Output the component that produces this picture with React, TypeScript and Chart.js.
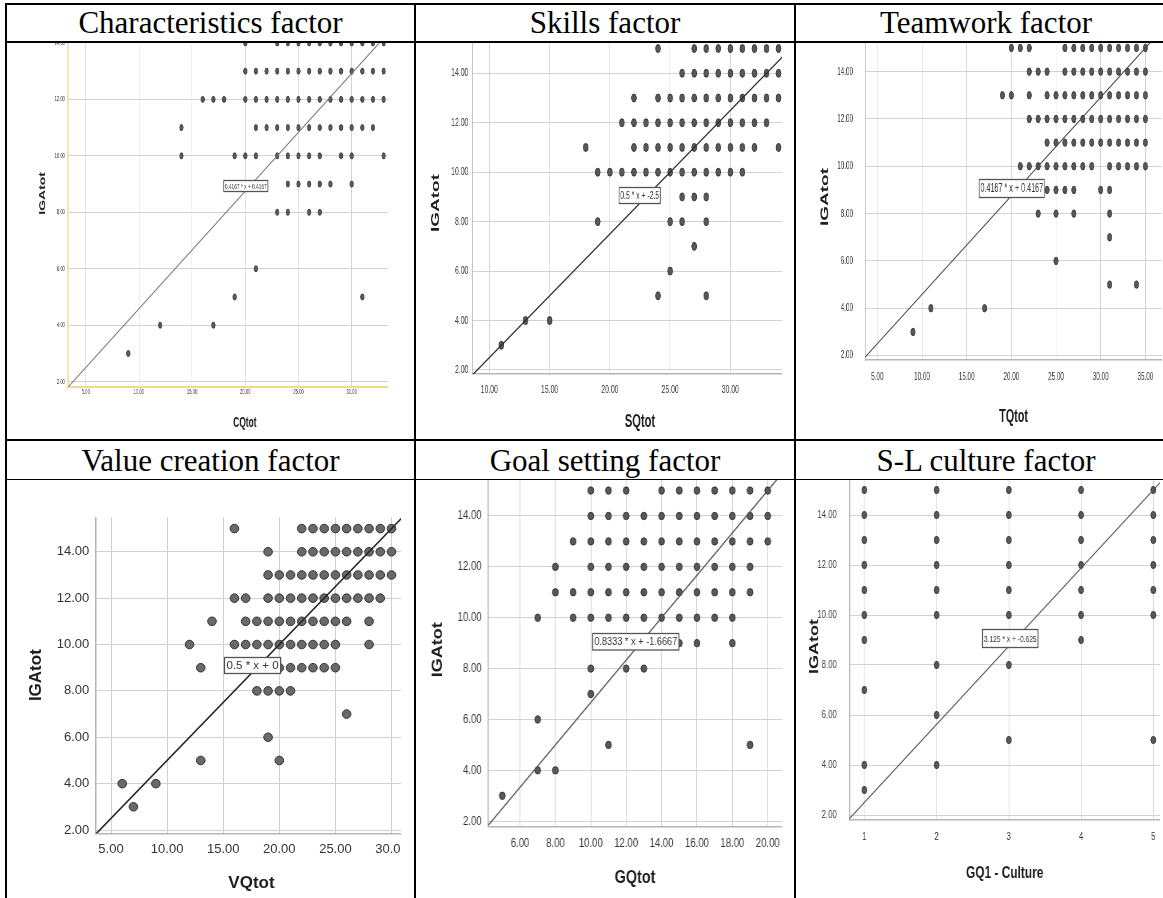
import React, { useEffect, useRef } from 'react';
import { Chart, registerables } from 'chart.js';

Chart.register(...registerables);

// ---------------- DATA ----------------
// Each row: [IGAtot value, x values observed at that level]
type Row = [number, number[]];

const panelTitles = [
  'Characteristics factor',
  'Skills factor',
  'Teamwork factor',
  'Value creation factor',
  'Goal setting factor',
  'S-L culture factor',
];
const xAxisTitles = ['CQtot', 'SQtot', 'TQtot', 'VQtot', 'GQtot', 'GQ1 - Culture'];
const yAxisTitle = 'IGAtot';

const fitSlopes = [0.4167, 0.5, 0.4167, 0.5, 0.8333, 3.125];
const fitIntercepts = [0.4167, -2.5, 0.4167, 0, -1.6667, -0.625];

const characteristicsRows: Row[] = [
  [14, [20, 23, 24, 25, 26, 27, 28, 29, 30, 31, 32, 33]],
  [13, [20, 21, 22, 23, 24, 25, 26, 27, 28, 29, 30, 31, 32, 33]],
  [12, [16, 17, 18, 20, 21, 22, 23, 24, 25, 26, 27, 28, 29, 30, 31, 32, 33]],
  [11, [14, 21, 22, 23, 24, 25, 26, 27, 28, 29, 30, 31, 32]],
  [10, [14, 19, 20, 21, 23, 24, 25, 26, 27, 29, 30, 33]],
  [9, [24, 25, 26, 27, 28, 30]],
  [8, [23, 24, 26, 27]],
  [6, [21]],
  [5, [19, 31]],
  [4, [12, 17]],
  [3, [9]],
];

const skillsRows: Row[] = [
  [15, [24, 27, 28, 29, 30, 31, 32, 33, 34]],
  [14, [26, 27, 28, 29, 30, 31, 32, 33, 34]],
  [13, [22, 24, 25, 26, 27, 28, 29, 30, 31, 32, 33, 34]],
  [12, [21, 22, 23, 24, 25, 26, 27, 28, 29, 30, 31, 32, 33]],
  [11, [18, 22, 23, 24, 25, 26, 27, 28, 29, 30, 31, 32, 34]],
  [10, [19, 20, 21, 22, 23, 24, 25, 26, 27, 28, 29, 30, 31]],
  [9, [26, 27, 28]],
  [8, [19, 25, 26, 28]],
  [7, [27]],
  [6, [25]],
  [5, [24, 28]],
  [4, [13, 15]],
  [3, [11]],
];

const teamworkRows: Row[] = [
  [15, [20, 21, 22, 26, 27, 28, 29, 30, 31, 32, 33, 34, 35]],
  [14, [22, 23, 24, 26, 27, 28, 29, 30, 31, 32, 33, 34, 35]],
  [13, [19, 20, 22, 24, 25, 26, 27, 28, 29, 30, 31, 32, 33, 34, 35]],
  [12, [22, 23, 24, 25, 26, 27, 28, 29, 30, 31, 32, 33, 34, 35]],
  [11, [24, 25, 26, 27, 28, 29, 30, 31, 32, 33, 34, 35]],
  [10, [21, 22, 23, 24, 25, 26, 27, 28, 29, 31, 32, 33, 34, 35]],
  [9, [24, 25, 26, 27, 30, 31]],
  [8, [23, 25, 27, 31]],
  [7, [31]],
  [6, [25]],
  [5, [31, 34]],
  [4, [11, 17]],
  [3, [9]],
];

const valueCreationRows: Row[] = [
  [15, [16, 22, 23, 24, 25, 26, 27, 28, 29, 30]],
  [14, [19, 22, 23, 24, 25, 26, 27, 28, 29, 30]],
  [13, [19, 20, 21, 22, 23, 24, 25, 26, 27, 28, 29, 30]],
  [12, [16, 17, 19, 20, 21, 22, 23, 24, 25, 26, 27, 28, 29]],
  [11, [14, 17, 18, 19, 20, 21, 22, 23, 24, 25, 26, 28]],
  [10, [12, 16, 17, 18, 19, 20, 21, 22, 23, 24, 25, 28]],
  [9, [13, 20, 21, 22, 23, 24, 25]],
  [8, [18, 19, 20, 21]],
  [7, [26]],
  [6, [19]],
  [5, [13, 20]],
  [4, [6, 9]],
  [3, [7]],
];

const goalSettingRows: Row[] = [
  [15, [10, 11, 12, 14, 15, 16, 17, 18, 19, 20]],
  [14, [10, 11, 12, 13, 14, 15, 16, 17, 18, 19, 20]],
  [13, [9, 10, 11, 12, 13, 14, 15, 16, 17, 18, 19, 20]],
  [12, [8, 10, 11, 12, 13, 14, 15, 16, 17, 18, 19]],
  [11, [8, 9, 10, 11, 12, 13, 14, 15, 16, 17, 18, 19]],
  [10, [7, 9, 10, 11, 12, 13, 14, 15, 16, 17, 18]],
  [9, [15, 16, 18]],
  [8, [10, 12, 13]],
  [7, [10]],
  [6, [7]],
  [5, [11, 19]],
  [4, [7, 8]],
  [3, [5]],
];

const cultureRows: Row[] = [
  [15, [1, 2, 3, 4, 5]],
  [14, [1, 2, 3, 4, 5]],
  [13, [1, 2, 3, 4, 5]],
  [12, [1, 2, 3, 4, 5]],
  [11, [1, 2, 3, 4, 5]],
  [10, [1, 2, 3, 4, 5]],
  [9, [1, 4]],
  [8, [2, 3]],
  [7, [1]],
  [6, [2]],
  [5, [3, 5]],
  [4, [1, 2]],
  [3, [1]],
];

const panelRows: Row[][] = [
  characteristicsRows,
  skillsRows,
  teamworkRows,
  valueCreationRows,
  goalSettingRows,
  cultureRows,
];

// ---------------- LAYOUT / STYLE ----------------
const SANS = "'Liberation Sans', Arial, Helvetica, sans-serif";
const SERIF = "'Liberation Serif', 'Times New Roman', Times, serif";

interface PanelLayout {
  clip: [number, number, number, number];
  canvasLeft: number;
  canvasTop: number;
  canvasBottom: number;
  areaLeft: number;
  areaRight: number;
  areaBottom: number;
  sx: number;
  xRange: [number, number];
  yRange: [number, number];
  xStep: number;
  xDecimals: number;
  tickSize: number;
  yTitleSize: number;
  xTitleSize: number;
  yTickPad: number;
  xTickPad: number;
  yTitlePad: number;
  xTitlePad: number;
  pointR: number;
  pointFill: string;
  pointEdge: string;
  lineColor: string;
  lineWidth: number;
  labelAt: [number, number];
  labelSize: number;
  labelBoxH: number;
  axisColor: string;
  axisWidth: number;
}

const layouts: PanelLayout[] = [
  {
    clip: [8, 42, 387.5, 438],
    canvasLeft: 8, canvasTop: 0, canvasBottom: 438,
    areaLeft: 67.7, areaRight: 422, areaBottom: 386.7,
    sx: 0.6,
    xRange: [3.31, 36.61], yRange: [1.823, 15.52], xStep: 5, xDecimals: 2,
    tickSize: 7, yTitleSize: 14, xTitleSize: 14,
    yTickPad: 4.5, xTickPad: 0.8, yTitlePad: 49.9, xTitlePad: 6.6,
    pointR: 3, pointFill: '#5a5a5a', pointEdge: '#3a3a3a',
    lineColor: '#777777', lineWidth: 1.3,
    labelAt: [20.02, 8.95], labelSize: 8, labelBoxH: 11,
    axisColor: '#f0d98c', axisWidth: 2,
  },
  {
    clip: [416, 42, 782, 438],
    canvasLeft: 418, canvasTop: 32, canvasBottom: 438,
    areaLeft: 472.3, areaRight: 807.7, areaBottom: 374,
    sx: 0.62,
    xRange: [8.589, 36.42], yRange: [1.838, 15.67], xStep: 5, xDecimals: 2,
    tickSize: 11, yTitleSize: 19, xTitleSize: 18,
    yTickPad: 6.5, xTickPad: 9.4, yTitlePad: 17.2, xTitlePad: 5.5,
    pointR: 4, pointFill: '#585858', pointEdge: '#363636',
    lineColor: '#2a2a2a', lineWidth: 1.5,
    labelAt: [22.46, 9.08], labelSize: 11, labelBoxH: 16,
    axisColor: '#b5b5b5', axisWidth: 1.5,
  },
  {
    clip: [796, 42, 1163, 438],
    canvasLeft: 800, canvasTop: 34, canvasBottom: 438,
    areaLeft: 865, areaRight: 1162, areaBottom: 360,
    sx: 0.6,
    xRange: [3.624, 36.86], yRange: [1.814, 15.59], xStep: 5, xDecimals: 2,
    tickSize: 10.5, yTitleSize: 19, xTitleSize: 18,
    yTickPad: 20, xTickPad: 11, yTitlePad: 30.3, xTitlePad: 10.5,
    pointR: 3.7, pointFill: '#585858', pointEdge: '#363636',
    lineColor: '#444444', lineWidth: 1.3,
    labelAt: [20.02, 9.08], labelSize: 12, labelBoxH: 18,
    axisColor: '#b5b5b5', axisWidth: 1.5,
  },
  {
    clip: [7, 480, 401, 898],
    canvasLeft: 8, canvasTop: 517, canvasBottom: 896,
    areaLeft: 96, areaRight: 407, areaBottom: 833.3,
    sx: 1,
    xRange: [3.663, 31.38], yRange: [1.858, 15.5], xStep: 5, xDecimals: 2,
    tickSize: 13, yTitleSize: 17, xTitleSize: 17,
    yTickPad: 6.7, xTickPad: 8.2, yTitlePad: 18.5, xTitlePad: 2.5,
    pointR: 4.3, pointFill: '#696969', pointEdge: '#333333',
    lineColor: '#222222', lineWidth: 1.5,
    labelAt: [17.54, 9.12], labelSize: 11.5, labelBoxH: 16,
    axisColor: '#b5b5b5', axisWidth: 1.5,
  },
  {
    clip: [416, 479.5, 782, 898],
    canvasLeft: 418, canvasTop: 473, canvasBottom: 896,
    areaLeft: 488.3, areaRight: 781.7, areaBottom: 826.7,
    sx: 0.8,
    xRange: [4.208, 20.79], yRange: [1.784, 15.69], xStep: 2, xDecimals: 2,
    tickSize: 12, yTitleSize: 18, xTitleSize: 18,
    yTickPad: 8.3, xTickPad: 9.4, yTitlePad: 14.6, xTitlePad: 6.9,
    pointR: 3.7, pointFill: '#585858', pointEdge: '#363636',
    lineColor: '#555555', lineWidth: 1.3,
    labelAt: [12.52, 9.09], labelSize: 11.5, labelBoxH: 16.5,
    axisColor: '#b5b5b5', axisWidth: 1.5,
  },
  {
    clip: [796, 479.5, 1163, 898],
    canvasLeft: 800, canvasTop: 473, canvasBottom: 896,
    areaLeft: 849.3, areaRight: 1160, areaBottom: 820,
    sx: 0.7,
    xRange: [0.792, 5.093], yRange: [1.8, 15.68], xStep: 1, xDecimals: 0,
    tickSize: 11, yTitleSize: 18, xTitleSize: 17,
    yTickPad: 18, xTickPad: 10.1, yTitlePad: 10.6, xTitlePad: 12.5,
    pointR: 3.6, pointFill: '#585858', pointEdge: '#363636',
    lineColor: '#555555', lineWidth: 1.3,
    labelAt: [3.01, 9.08], labelSize: 9.5, labelBoxH: 18,
    axisColor: '#b5b5b5', axisWidth: 1.5,
  },
];

const GRID = '#d2d2d2';
const TICK_COLOR = '#333333';
const TITLE_COLOR = '#1e1e1e';

// --------------- plugin: fit-line label box ---------------
const fitLabelPlugin = {
  id: 'fitLabel',
  afterDatasetsDraw(chart: any, _args: any, opts: any) {
    if (!opts || !opts.text) return;
    const { ctx } = chart;
    const cx = chart.scales.x.getPixelForValue(opts.at[0]);
    const cy = chart.scales.y.getPixelForValue(opts.at[1]);
    ctx.save();
    ctx.font = `${opts.size}px ${SANS}`;
    const tw = ctx.measureText(opts.text).width;
    const w = tw + 4;
    const h = opts.boxH;
    const x0 = Math.round(cx - w / 2) + 0.5;
    const y0 = Math.round(cy - h / 2) + 0.5;
    ctx.fillStyle = '#ffffff';
    ctx.fillRect(x0, y0, w, h);
    ctx.strokeStyle = '#555555';
    ctx.lineWidth = 1.3;
    ctx.strokeRect(x0, y0, w, h);
    ctx.fillStyle = '#333333';
    ctx.textAlign = 'center';
    ctx.textBaseline = 'middle';
    ctx.fillText(opts.text, x0 + w / 2, y0 + h / 2 + 0.5);
    ctx.restore();
  },
};

function geometry(l: PanelLayout) {
  const span = l.areaRight - l.canvasLeft;
  const W = Math.round(span / l.sx);
  const sx = span / W;
  const H = l.canvasBottom - l.canvasTop;
  const yAxisW = (l.areaLeft - l.canvasLeft) / sx;
  const xAxisH = l.canvasBottom - l.areaBottom;
  return { W, H, sx, yAxisW, xAxisH };
}

function buildConfig(i: number): any {
  const l = layouts[i];
  const g = geometry(l);
  const rows = panelRows[i];
  const points = rows.flatMap(([y, xs]) => xs.map((x) => ({ x, y })));
  const slope = fitSlopes[i];
  const intercept = fitIntercepts[i];
  const [x0, x1] = l.xRange;
  const fitText = `${slope} * x + ${intercept}`;

  return {
    type: 'scatter',
    data: {
      datasets: [
        {
          type: 'line',
          data: [
            { x: x0, y: slope * x0 + intercept },
            { x: x1, y: slope * x1 + intercept },
          ],
          borderColor: l.lineColor,
          borderWidth: l.lineWidth,
          pointRadius: 0,
          fill: false,
          tension: 0,
          order: 0,
        },
        {
          type: 'scatter',
          data: points,
          pointRadius: l.pointR,
          pointBackgroundColor: l.pointFill,
          pointBorderColor: l.pointEdge,
          pointBorderWidth: 1,
          order: 1,
        },
      ],
    },
    options: {
      responsive: false,
      maintainAspectRatio: false,
      animation: false,
      devicePixelRatio: 1,
      events: [],
      layout: { padding: 0, autoPadding: false },
      plugins: {
        legend: { display: false },
        tooltip: { enabled: false },
        title: { display: false },
        fitLabel: { text: fitText, at: l.labelAt, size: l.labelSize, boxH: l.labelBoxH },
      },
      scales: {
        x: {
          type: 'linear',
          position: 'bottom',
          min: l.xRange[0],
          max: l.xRange[1],
          afterFit: (sc: any) => {
            sc.height = g.xAxisH;
            sc.paddingLeft = 0;
            sc.paddingRight = 0;
            sc.paddingTop = 0;
            sc.paddingBottom = 0;
          },
          ticks: {
            stepSize: l.xStep,
            includeBounds: false,
            autoSkip: false,
            maxRotation: 0,
            minRotation: 0,
            padding: l.xTickPad,
            color: TICK_COLOR,
            font: { family: SANS, size: l.tickSize },
            callback: (v: any) => Number(v).toFixed(l.xDecimals),
          },
          grid: { color: GRID, lineWidth: 1, drawTicks: false },
          border: { display: true, color: l.axisColor, width: l.axisWidth },
          title: {
            display: true,
            text: xAxisTitles[i],
            color: TITLE_COLOR,
            font: { family: SANS, size: l.xTitleSize, weight: 'bold' },
            padding: { top: 0, bottom: l.xTitlePad },
          },
        },
        y: {
          type: 'linear',
          position: 'left',
          min: l.yRange[0],
          max: l.yRange[1],
          afterFit: (sc: any) => {
            sc.width = g.yAxisW;
            sc.paddingLeft = 0;
            sc.paddingRight = 0;
            sc.paddingTop = 0;
            sc.paddingBottom = 0;
          },
          ticks: {
            stepSize: 2,
            includeBounds: false,
            autoSkip: false,
            padding: l.yTickPad,
            color: TICK_COLOR,
            font: { family: SANS, size: l.tickSize },
            callback: (v: any) => Number(v).toFixed(2),
          },
          grid: { color: GRID, lineWidth: 1, drawTicks: false },
          border: { display: true, color: l.axisColor, width: l.axisWidth },
          title: {
            display: true,
            text: yAxisTitle,
            color: TITLE_COLOR,
            font: { family: SANS, size: l.yTitleSize, weight: 'bold' },
            padding: { top: l.yTitlePad, bottom: 0 },
          },
        },
      },
    },
    plugins: [fitLabelPlugin],
  };
}

function Panel({ index }: { index: number }) {
  const ref = useRef<HTMLCanvasElement | null>(null);
  const l = layouts[index];
  const g = geometry(l);

  useEffect(() => {
    const canvas = ref.current;
    if (!canvas) return;
    const chart = new Chart(canvas, buildConfig(index));
    return () => chart.destroy();
  }, [index]);

  const [cl, ct, cr, cb] = l.clip;
  return (
    <div
      style={{
        position: 'absolute',
        left: cl,
        top: ct,
        width: cr - cl,
        height: cb - ct,
        overflow: 'hidden',
        zIndex: 1,
      }}
    >
      <canvas
        ref={ref}
        width={g.W}
        height={g.H}
        style={{
          position: 'absolute',
          left: l.canvasLeft - cl,
          top: l.canvasTop - ct,
          width: g.W,
          height: g.H,
          transform: `scaleX(${g.sx})`,
          transformOrigin: '0 0',
        }}
      />
    </div>
  );
}

const tableLines: [number, number, number, number][] = [
  [5, 3, 1158, 2],
  [5, 3, 2, 895],
  [414, 3, 2, 895],
  [794, 3, 2, 895],
  [5, 41, 1158, 1.5],
  [5, 439, 1158, 2],
  [5, 478.5, 1158, 1.5],
];

const headerCenters = [210.5, 605, 986];
const headerTops = [7.3, 444.5];

export default function App() {
  return (
    <div
      style={{
        position: 'absolute',
        left: 0,
        top: 0,
        width: 1163,
        height: 898,
        background: '#ffffff',
        overflow: 'hidden',
      }}
    >
      {panelTitles.map((t, i) => (
        <div
          key={'h' + i}
          style={{
            position: 'absolute',
            left: headerCenters[i % 3] - 200,
            top: headerTops[Math.floor(i / 3)],
            width: 400,
            textAlign: 'center',
            fontFamily: SERIF,
            fontSize: 31,
            lineHeight: '31px',
            color: '#000',
            whiteSpace: 'nowrap',
            zIndex: 4,
          }}
        >
          {t}
        </div>
      ))}
      {layouts.map((_, i) => (
        <Panel key={'p' + i} index={i} />
      ))}
      {tableLines.map(([x, y, w, h], i) => (
        <div
          key={'l' + i}
          style={{ position: 'absolute', left: x, top: y, width: w, height: h, background: '#000', zIndex: 3 }}
        />
      ))}
    </div>
  );
}
